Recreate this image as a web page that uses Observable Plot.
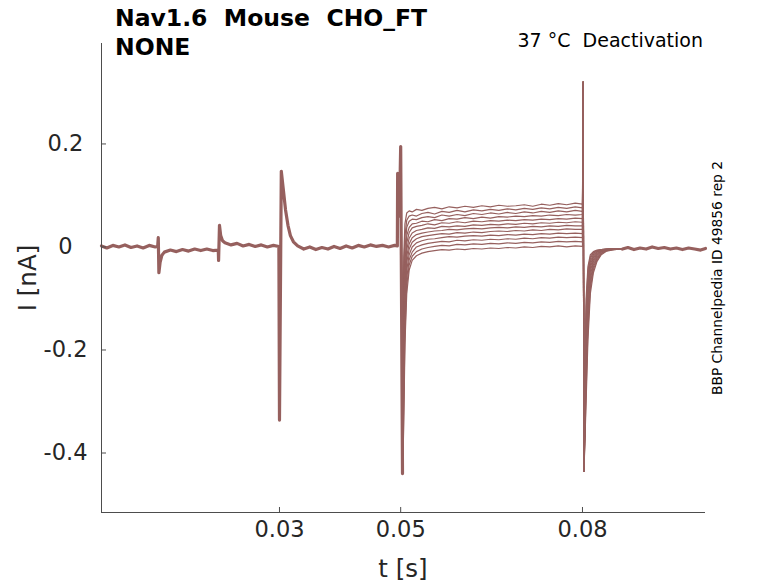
<!DOCTYPE html>
<html>
<head>
<meta charset="utf-8">
<script src="https://cdn.jsdelivr.net/npm/d3@7"></script>
<script src="https://cdn.jsdelivr.net/npm/@observablehq/plot@0.6"></script>
<style>
  html, body { margin: 0; padding: 0; background: #fff; }
  #chart { width: 778px; height: 583px; }
</style>
</head>
<body>
<div id="chart"></div>
<script>
// ---------- axis setup ----------
const xDomain = [0.00063, 0.1003];
const yDomain = [-0.5155, 0.395];
const xTicks = [0.03, 0.05, 0.08];
const yTicks = [-0.4, -0.2, 0, 0.2];

// ---------- shared part of all sweeps (before the test step) ----------
const tPre = [0.00063, 0.0015, 0.0025, 0.0035, 0.0045, 0.0055, 0.0065, 0.0075, 0.0085, 0.0095, 0.0099,
  0.0100, 0.0101, 0.0103, 0.0106, 0.0110, 0.0120, 0.0130, 0.0140, 0.0150, 0.0160, 0.0170, 0.0180, 0.0190, 0.0199,
  0.01995, 0.0201, 0.0203, 0.0206, 0.0210, 0.0220, 0.0230, 0.0240, 0.0250, 0.0260, 0.0270, 0.0280, 0.0290, 0.0299,
  0.0300, 0.0303, 0.0306, 0.0310, 0.0314, 0.0318, 0.0323, 0.0330, 0.0340, 0.0350, 0.0360, 0.0370, 0.0380, 0.0390,
  0.0400, 0.0410, 0.0420, 0.0430, 0.0440, 0.0450, 0.0460, 0.0470, 0.0480, 0.0490, 0.04945,
  0.0495, 0.04965, 0.04985, 0.0500, 0.0503];
const iPre = [0.002, -0.002, 0.003, 0.000, 0.004, -0.001, 0.002, -0.002, 0.003, 0.000, 0.001,
  0.018, -0.050, -0.030, -0.016, -0.010, -0.006, -0.009, -0.005, -0.008, -0.004, -0.007, -0.004, -0.007, -0.006,
  -0.026, 0.042, 0.022, 0.012, 0.008, 0.004, 0.007, 0.002, 0.005, 0.001, 0.004, 0.000, 0.003, 0.001,
  -0.336, 0.147, 0.115, 0.072, 0.042, 0.022, 0.010, 0.002, -0.004, 0.000, -0.005, -0.001, -0.004, 0.001,
  -0.003, 0.002, -0.002, 0.003, 0.000, 0.004, 0.001, 0.003, 0.000, 0.003, 0.002,
  0.143, 0.060, 0.100, 0.195, -0.440];

// ---------- per-sweep test step (plateau) ----------
const tPlat = [0.0505, 0.0507, 0.0510, 0.0514, 0.0519, 0.0526, 0.0535, 0.0545, 0.0556, 0.0568, 0.0580,
  0.0593, 0.0606, 0.0620, 0.0634, 0.0648, 0.0662, 0.0676, 0.0690, 0.0704, 0.0718, 0.0732, 0.0746, 0.0760,
  0.0774, 0.0788, 0.0800];
const plateaus = [
  [-0.020, 0.045, 0.066, 0.070, 0.068, 0.073, 0.071, 0.075, 0.077, 0.074, 0.078, 0.076, 0.079, 0.077, 0.080, 0.078, 0.081, 0.079, 0.080, 0.082, 0.079, 0.083, 0.081, 0.084, 0.082, 0.085, 0.083],
  [-0.050, 0.020, 0.052, 0.060, 0.062, 0.060, 0.065, 0.067, 0.064, 0.069, 0.067, 0.071, 0.068, 0.072, 0.070, 0.073, 0.071, 0.074, 0.072, 0.075, 0.073, 0.076, 0.074, 0.077, 0.075, 0.078, 0.076],
  [-0.080, -0.005, 0.038, 0.050, 0.054, 0.053, 0.057, 0.059, 0.057, 0.062, 0.060, 0.063, 0.061, 0.065, 0.063, 0.066, 0.064, 0.067, 0.065, 0.068, 0.066, 0.069, 0.067, 0.070, 0.068, 0.071, 0.069],
  [-0.110, -0.030, 0.022, 0.038, 0.045, 0.046, 0.050, 0.049, 0.053, 0.051, 0.055, 0.054, 0.057, 0.055, 0.058, 0.056, 0.059, 0.058, 0.060, 0.059, 0.061, 0.060, 0.062, 0.061, 0.063, 0.062, 0.063],
  [-0.140, -0.050, 0.008, 0.028, 0.037, 0.040, 0.042, 0.045, 0.043, 0.047, 0.046, 0.049, 0.047, 0.050, 0.049, 0.051, 0.050, 0.052, 0.051, 0.053, 0.052, 0.054, 0.053, 0.055, 0.054, 0.056, 0.055],
  [-0.170, -0.070, -0.005, 0.017, 0.027, 0.032, 0.034, 0.037, 0.036, 0.040, 0.039, 0.041, 0.040, 0.043, 0.042, 0.044, 0.043, 0.045, 0.044, 0.046, 0.045, 0.047, 0.046, 0.048, 0.047, 0.049, 0.048],
  [-0.200, -0.090, -0.018, 0.006, 0.018, 0.024, 0.027, 0.029, 0.031, 0.032, 0.034, 0.033, 0.035, 0.036, 0.035, 0.037, 0.038, 0.037, 0.039, 0.038, 0.040, 0.039, 0.041, 0.040, 0.042, 0.041, 0.041],
  [-0.230, -0.110, -0.030, -0.004, 0.009, 0.016, 0.020, 0.022, 0.024, 0.026, 0.025, 0.028, 0.027, 0.029, 0.028, 0.030, 0.031, 0.030, 0.032, 0.031, 0.033, 0.032, 0.034, 0.033, 0.035, 0.034, 0.034],
  [-0.260, -0.130, -0.045, -0.015, 0.000, 0.008, 0.012, 0.015, 0.016, 0.018, 0.020, 0.019, 0.021, 0.022, 0.021, 0.023, 0.022, 0.024, 0.023, 0.025, 0.024, 0.026, 0.025, 0.027, 0.026, 0.027, 0.026],
  [-0.290, -0.150, -0.060, -0.025, -0.010, 0.000, 0.004, 0.007, 0.009, 0.011, 0.010, 0.013, 0.012, 0.014, 0.013, 0.015, 0.014, 0.016, 0.015, 0.017, 0.016, 0.018, 0.017, 0.019, 0.018, 0.019, 0.018],
  [-0.320, -0.170, -0.075, -0.035, -0.018, -0.009, -0.004, -0.001, 0.001, 0.003, 0.002, 0.005, 0.004, 0.006, 0.005, 0.007, 0.006, 0.008, 0.007, 0.009, 0.008, 0.010, 0.009, 0.011, 0.010, 0.011, 0.010],
  [-0.350, -0.190, -0.090, -0.045, -0.026, -0.017, -0.012, -0.009, -0.007, -0.005, -0.006, -0.004, -0.005, -0.003, -0.004, -0.002, -0.003, -0.001, -0.002, 0.000, -0.001, 0.001, 0.000, 0.002, 0.000, 0.002, 0.001]
];

// ---------- step-off transient (same for all sweeps) ----------
const tOff = [0.0801, 0.08025];
const iOff = [0.320, -0.435];

// ---------- per-sweep tail currents ----------
const tTail = [0.0806, 0.0809, 0.0813, 0.0818, 0.0824, 0.0831, 0.0840, 0.0852, 0.0866];
const tails = [
  [-0.300, -0.180, -0.090, -0.050, -0.028, -0.015, -0.008, -0.005, -0.004],
  [-0.280, -0.160, -0.080, -0.044, -0.025, -0.013, -0.007, -0.005, -0.004],
  [-0.260, -0.145, -0.071, -0.039, -0.022, -0.012, -0.007, -0.004, -0.004],
  [-0.240, -0.130, -0.063, -0.034, -0.019, -0.010, -0.006, -0.004, -0.003],
  [-0.220, -0.115, -0.055, -0.029, -0.016, -0.009, -0.006, -0.004, -0.003],
  [-0.200, -0.100, -0.047, -0.025, -0.014, -0.008, -0.005, -0.004, -0.003],
  [-0.180, -0.088, -0.040, -0.021, -0.012, -0.007, -0.005, -0.004, -0.003],
  [-0.160, -0.076, -0.034, -0.018, -0.010, -0.006, -0.005, -0.004, -0.003],
  [-0.145, -0.065, -0.028, -0.015, -0.009, -0.006, -0.004, -0.004, -0.003],
  [-0.130, -0.055, -0.023, -0.012, -0.008, -0.005, -0.004, -0.003, -0.003],
  [-0.115, -0.046, -0.019, -0.010, -0.007, -0.005, -0.004, -0.003, -0.003],
  [-0.100, -0.038, -0.015, -0.009, -0.006, -0.005, -0.004, -0.003, -0.003]
];

// ---------- shared end of all sweeps ----------
const tEnd = [0.0866, 0.0875, 0.0885, 0.0895, 0.0905, 0.0915, 0.0925, 0.0935, 0.0945, 0.0955, 0.0965, 0.0975, 0.0985, 0.0995, 0.1003];
const iEnd = [-0.004, -0.001, -0.005, -0.002, -0.004, 0.000, -0.003, -0.001, -0.004, -0.002, -0.005, -0.002, -0.004, -0.006, -0.003];

// ---------- build rows ----------
const sharedRows = [];
tPre.forEach((t, k) => sharedRows.push({t, i: iPre[k], g: "pre"}));
tEnd.forEach((t, k) => sharedRows.push({t, i: iEnd[k], g: "end"}));

const sweepRows = [];
plateaus.forEach((vals, s) => {
  sweepRows.push({t: tPre[tPre.length - 1], i: iPre[iPre.length - 1], s});
  tPlat.forEach((t, k) => sweepRows.push({t, i: vals[k], s}));
  tOff.forEach((t, k) => sweepRows.push({t, i: iOff[k], s}));
  tTail.forEach((t, k) => sweepRows.push({t, i: tails[s][k], s}));
});

const traceColor = "#96605e";
const axisColor = "#4d4d4d";
const textColor = "#262626";
const tickLenY = 5 / 515;   // inward tick length in data units
const tickLenX = 5 / 6060;

const chart = Plot.plot({
  width: 778,
  height: 583,
  marginLeft: 101,
  marginRight: 73,
  marginTop: 43,
  marginBottom: 71,
  style: {fontFamily: "DejaVu Sans", color: textColor, background: "#fff"},
  x: {domain: xDomain},
  y: {domain: yDomain},
  marks: [
    Plot.line(sweepRows, {x: "t", y: "i", z: "s", stroke: traceColor, strokeWidth: 1.2, curve: "linear"}),
    Plot.line(sharedRows, {x: "t", y: "i", z: "g", stroke: traceColor, strokeWidth: 3.2, curve: "linear"}),
    Plot.ruleX([xDomain[0]], {y1: yDomain[0], y2: yDomain[1], stroke: axisColor, strokeWidth: 1}),
    Plot.ruleY([yDomain[0]], {x1: xDomain[0], x2: xDomain[1], stroke: axisColor, strokeWidth: 1}),
    Plot.ruleX(xTicks, {y1: yDomain[0], y2: yDomain[0] + tickLenY, stroke: axisColor}),
    Plot.ruleY(yTicks, {x1: xDomain[0], x2: xDomain[0] + tickLenX, stroke: axisColor}),
    Plot.axisX({ticks: xTicks, tickSize: 0, tickPadding: 9, fontSize: 22.5, tickFormat: d => d.toFixed(2), label: null}),
    Plot.axisY({ticks: yTicks, tickSize: 0, tickPadding: 36, textAnchor: "middle", fontSize: 22.5, tickFormat: d => d === 0 ? "0" : String(d), label: null})
  ]
});

document.getElementById("chart").appendChild(chart);

// ---------- titles and labels ----------
const svg = d3.select(chart);
function addText(txt, x, y, opts = {}) {
  const el = svg.append("text")
    .attr("x", x).attr("y", y)
    .attr("font-family", "DejaVu Sans")
    .attr("font-size", opts.size || 16)
    .attr("font-weight", opts.weight || "normal")
    .attr("fill", opts.fill || "#000")
    .attr("text-anchor", opts.anchor || "start")
    .text(txt);
  if (opts.rotate) el.attr("transform", `rotate(${opts.rotate},${x},${y})`);
  return el;
}
addText("Nav1.6 \u00a0Mouse \u00a0CHO_FT", 115, 26, {size: 23.5, weight: "bold"});
addText("NONE", 115, 55, {size: 23.5, weight: "bold"});
addText("37 °C \u00a0Deactivation", 703, 47, {size: 19, anchor: "end"});
addText("BBP Channelpedia ID 49856 rep 2", 722, 278, {size: 13.8, anchor: "middle", rotate: -90});
addText("I [nA]", 36, 278, {size: 24.5, anchor: "middle", rotate: -90, fill: textColor});
addText("t [s]", 403, 577, {size: 24.5, anchor: "middle", fill: textColor});
</script>
</body>
</html>
